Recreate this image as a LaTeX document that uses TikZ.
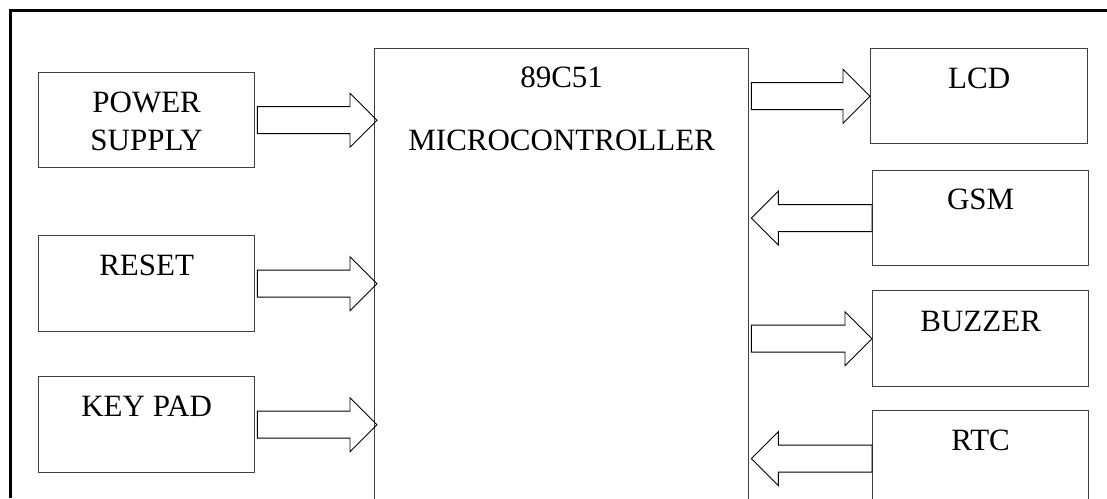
\documentclass[tikz,border=0pt]{standalone}
\usepackage{fontspec}
\setmainfont{Liberation Serif}
\usetikzlibrary{calc}

\tikzset{
  frameline/.style={draw=black, line width=3pt},
  unit/.style={draw=black!75, line width=1.3pt, rectangle, inner sep=0pt,
    minimum width=216pt, minimum height=96pt, anchor=north west},
  mcu/.style={draw=black!75, line width=1.3pt, rectangle, inner sep=0pt,
    minimum width=374pt, minimum height=520pt, anchor=north west},
  lbl/.style={font=\fontsize{31}{37}\selectfont, inner sep=0pt, anchor=base},
  % hollow block arrow from the start point to the tip at the target
  blockarrow/.style={draw=black, line width=0.9pt, line join=miter,
    to path={let \p1=(\tikztostart), \p2=(\tikztotarget),
      \n1={ifthenelse(\x2>\x1,1,-1)} in
      (\x1,\y1+13.5pt) -- (\x2-\n1*27pt,\y1+13.5pt) -- (\x2-\n1*27pt,\y1+27pt)
      -- (\x2,\y1) -- (\x2-\n1*27pt,\y1-27pt) -- (\x2-\n1*27pt,\y1-13.5pt)
      -- (\x1,\y1-13.5pt) -- cycle}}
}

\begin{document}
\begin{tikzpicture}[x=1pt, y=-1pt]
\useasboundingbox (0,0) rectangle (1107,498);
\clip (0,0) rectangle (1107,498);

% outer frame (top and left edges)
\coordinate (f-bl) at (10,498);
\coordinate (f-tl) at (10,10);
\coordinate (f-tr) at (1107,10);
\draw[frameline] (f-bl) -- (f-tl) -- (f-tr);

% microcontroller
\node[mcu] (mc) at (374,48) {};
\node[lbl] (mc-t1) at ($(mc.north)+(0,39)$) {89C51};
\node[lbl] (mc-t2) at ($(mc.north)+(0,102)$) {MICROCONTROLLER};

% input blocks
\node[unit, minimum height=95pt] (ps) at (38,72) {};
\node[lbl] (ps-t1) at ($(ps.north)+(0,40)$) {POWER};
\node[lbl] (ps-t2) at ($(ps.north)+(0,78)$) {SUPPLY};

\node[unit] (rst) at (38,235) {};
\node[lbl] (rst-t) at ($(rst.north)+(0,40)$) {RESET};

\node[unit] (kp) at (38,376) {};
\node[lbl] (kp-t) at ($(kp.north)+(0,40)$) {KEY PAD};

% peripheral blocks
\node[unit, minimum width=217pt, minimum height=95pt] (lcd) at (870,48) {};
\node[lbl] (lcd-t) at ($(lcd.north)+(0,40)$) {LCD};

\node[unit, minimum height=95pt] (gsm) at (872,170) {};
\node[lbl] (gsm-t) at ($(gsm.north)+(0,39)$) {GSM};

\node[unit] (bz) at (872,290) {};
\node[lbl] (bz-t) at ($(bz.north)+(0,41)$) {BUZZER};

\node[unit] (rtc) at (872,410) {};
\node[lbl] (rtc-t) at ($(rtc.north)+(0,40)$) {RTC};

% data flow
\draw[blockarrow] ($(ps.east)+(2,0)$) to ($(mc.west |- ps.east)+(3,0)$);
\draw[blockarrow] ($(rst.east)+(2,0)$) to ($(mc.west |- rst.east)+(3,0)$);
\draw[blockarrow] ($(kp.east)+(2,0)$) to ($(mc.west |- kp.east)+(3,0)$);

\draw[blockarrow] ($(mc.east |- lcd.west)+(2,0)$) to (lcd.west);
\draw[blockarrow] (gsm.west) to ($(mc.east |- gsm.west)+(2,0)$);
\draw[blockarrow] ($(mc.east |- bz.west)+(2,0)$) to (bz.west);
\draw[blockarrow] (rtc.west) to ($(mc.east |- rtc.west)+(2,0)$);
\end{tikzpicture}
\end{document}
